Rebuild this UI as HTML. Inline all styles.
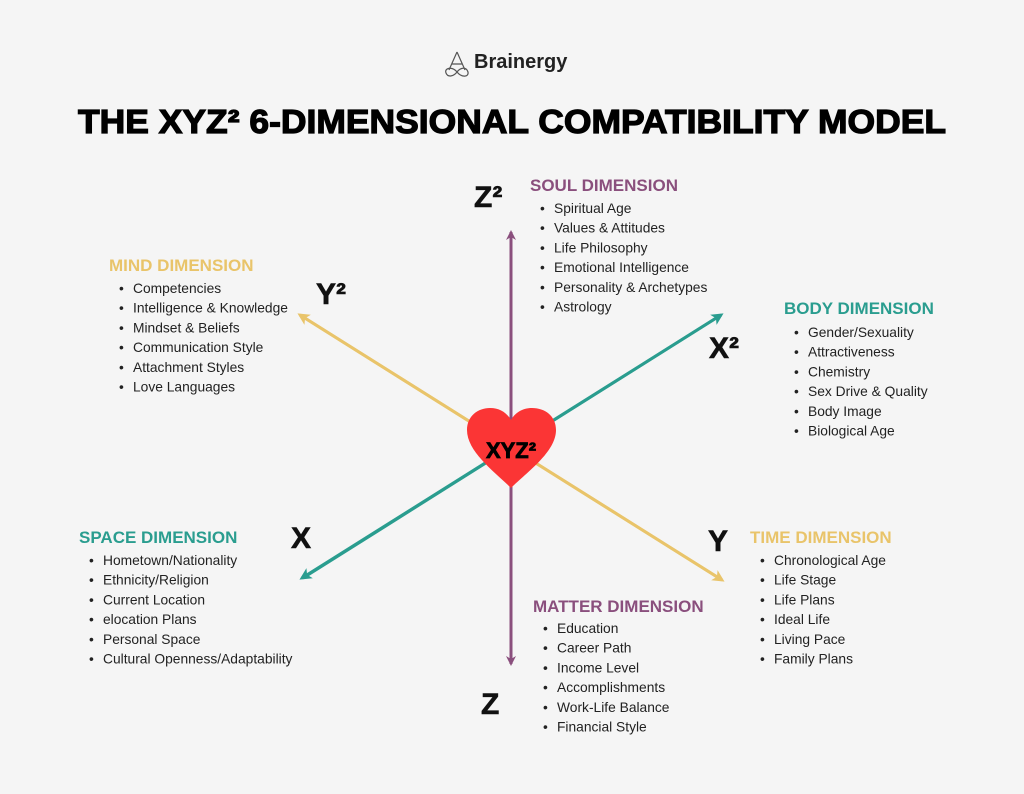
<!DOCTYPE html>
<html><head><meta charset="utf-8"><style>
body{margin:0;background:#f5f5f5;}
svg text{font-family:"Liberation Sans",sans-serif;}
</style></head><body>
<svg width="1024" height="789" viewBox="0 0 1024 789" xmlns="http://www.w3.org/2000/svg">
<rect width="1024" height="789" fill="#f5f5f5"/>
<defs>
<marker id="ap" markerWidth="10" markerHeight="10" refX="8" refY="5" orient="auto" markerUnits="userSpaceOnUse"><path d="M0,0 L10,5 L0,10 L3,5 Z" fill="#8a4f7d"/></marker>
<marker id="at" markerWidth="12" markerHeight="12" refX="9" refY="6" orient="auto" markerUnits="userSpaceOnUse"><path d="M0,0 L12,6 L0,12 L3,6 Z" fill="#2a9d8f"/></marker>
<marker id="ay" markerWidth="12" markerHeight="12" refX="9" refY="6" orient="auto" markerUnits="userSpaceOnUse"><path d="M0,0 L12,6 L0,12 L3,6 Z" fill="#e9c46a"/></marker>
</defs>
<g stroke="#555" fill="none" stroke-width="1.2">
<path d="M457,52 L449,70 M457,52 L465,70 M452,64 L462,64"/>
<path d="M457,72 C452,66 444,68 446,73 C448,78 454,76 457,72 C460,68 466,66 468,72 C469,77 462,78 457,72Z"/>
</g>
<text x="474" y="68" font-size="20" font-weight="bold" fill="#222">Brainergy</text>
<text x="78" y="133" font-size="33" font-weight="900" fill="#000" textLength="868" lengthAdjust="spacingAndGlyphs" stroke="#000" stroke-width="1.2">THE XYZ² 6-DIMENSIONAL COMPATIBILITY MODEL</text>
<line x1="511" y1="660" x2="511" y2="232" stroke="#8a4f7d" stroke-width="3" marker-end="url(#ap)"/>
<line x1="511" y1="232" x2="511" y2="664" stroke="#8a4f7d" stroke-width="3" marker-end="url(#ap)"/>
<line x1="303" y1="578" x2="721" y2="315" stroke="#2a9d8f" stroke-width="3" marker-end="url(#at)"/>
<line x1="721" y1="315" x2="302" y2="578" stroke="#2a9d8f" stroke-width="3" marker-end="url(#at)"/>
<line x1="300" y1="315" x2="722" y2="580" stroke="#e9c46a" stroke-width="3" marker-end="url(#ay)"/>
<line x1="722" y1="580" x2="300" y2="315" stroke="#e9c46a" stroke-width="3" marker-end="url(#ay)"/>
<path d="M511,488 C495,472 467,452 467,430 C467,416 478,408 490,408 C500,408 507,413 511,420 C515,413 522,408 532,408 C545,408 556,416 556,430 C556,452 527,472 511,488Z" fill="#fb3535"/>
<text x="511" y="458" font-size="22" font-weight="900" text-anchor="middle" fill="#000" stroke="#000" stroke-width="0.8">XYZ²</text>
<g font-size="30" font-weight="bold" fill="#111" stroke="#111" stroke-width="0.6">
<text x="474" y="207">Z²</text>
<text x="316" y="304">Y²</text>
<text x="709" y="358">X²</text>
<text x="291" y="548">X</text>
<text x="708" y="551">Y</text>
<text x="481" y="714">Z</text>
</g>
<g font-size="13.8" fill="#222">
<text x="530" y="191" font-size="17" font-weight="bold" fill="#8a4f7d">SOUL DIMENSION</text>
<g transform="translate(540,213)"><text x="0" y="0">•</text><text x="14" y="0">Spiritual Age</text><text x="0" y="19.7">•</text><text x="14" y="19.7">Values &amp; Attitudes</text><text x="0" y="39.4">•</text><text x="14" y="39.4">Life Philosophy</text><text x="0" y="59.1">•</text><text x="14" y="59.1">Emotional Intelligence</text><text x="0" y="78.8">•</text><text x="14" y="78.8">Personality &amp; Archetypes</text><text x="0" y="98.5">•</text><text x="14" y="98.5">Astrology</text></g>

<text x="109" y="271" font-size="17" font-weight="bold" fill="#e9c46a">MIND DIMENSION</text>
<g transform="translate(119,293)"><text x="0" y="0">•</text><text x="14" y="0">Competencies</text><text x="0" y="19.7">•</text><text x="14" y="19.7">Intelligence &amp; Knowledge</text><text x="0" y="39.4">•</text><text x="14" y="39.4">Mindset &amp; Beliefs</text><text x="0" y="59.1">•</text><text x="14" y="59.1">Communication Style</text><text x="0" y="78.8">•</text><text x="14" y="78.8">Attachment Styles</text><text x="0" y="98.5">•</text><text x="14" y="98.5">Love Languages</text></g>

<text x="784" y="314" font-size="17" font-weight="bold" fill="#2a9d8f">BODY DIMENSION</text>
<g transform="translate(794,337)"><text x="0" y="0">•</text><text x="14" y="0">Gender/Sexuality</text><text x="0" y="19.7">•</text><text x="14" y="19.7">Attractiveness</text><text x="0" y="39.4">•</text><text x="14" y="39.4">Chemistry</text><text x="0" y="59.1">•</text><text x="14" y="59.1">Sex Drive &amp; Quality</text><text x="0" y="78.8">•</text><text x="14" y="78.8">Body Image</text><text x="0" y="98.5">•</text><text x="14" y="98.5">Biological Age</text></g>

<text x="79" y="543" font-size="17" font-weight="bold" fill="#2a9d8f">SPACE DIMENSION</text>
<g transform="translate(89,565)"><text x="0" y="0">•</text><text x="14" y="0">Hometown/Nationality</text><text x="0" y="19.7">•</text><text x="14" y="19.7">Ethnicity/Religion</text><text x="0" y="39.4">•</text><text x="14" y="39.4">Current Location</text><text x="0" y="59.1">•</text><text x="14" y="59.1">elocation Plans</text><text x="0" y="78.8">•</text><text x="14" y="78.8">Personal Space</text><text x="0" y="98.5">•</text><text x="14" y="98.5">Cultural Openness/Adaptability</text></g>

<text x="750" y="543" font-size="17" font-weight="bold" fill="#e9c46a">TIME DIMENSION</text>
<g transform="translate(760,565)"><text x="0" y="0">•</text><text x="14" y="0">Chronological Age</text><text x="0" y="19.7">•</text><text x="14" y="19.7">Life Stage</text><text x="0" y="39.4">•</text><text x="14" y="39.4">Life Plans</text><text x="0" y="59.1">•</text><text x="14" y="59.1">Ideal Life</text><text x="0" y="78.8">•</text><text x="14" y="78.8">Living Pace</text><text x="0" y="98.5">•</text><text x="14" y="98.5">Family Plans</text></g>

<text x="533" y="612" font-size="17" font-weight="bold" fill="#8a4f7d">MATTER DIMENSION</text>
<g transform="translate(543,633)"><text x="0" y="0">•</text><text x="14" y="0">Education</text><text x="0" y="19.7">•</text><text x="14" y="19.7">Career Path</text><text x="0" y="39.4">•</text><text x="14" y="39.4">Income Level</text><text x="0" y="59.1">•</text><text x="14" y="59.1">Accomplishments</text><text x="0" y="78.8">•</text><text x="14" y="78.8">Work-Life Balance</text><text x="0" y="98.5">•</text><text x="14" y="98.5">Financial Style</text></g>
</g>
</svg>
</body></html>
